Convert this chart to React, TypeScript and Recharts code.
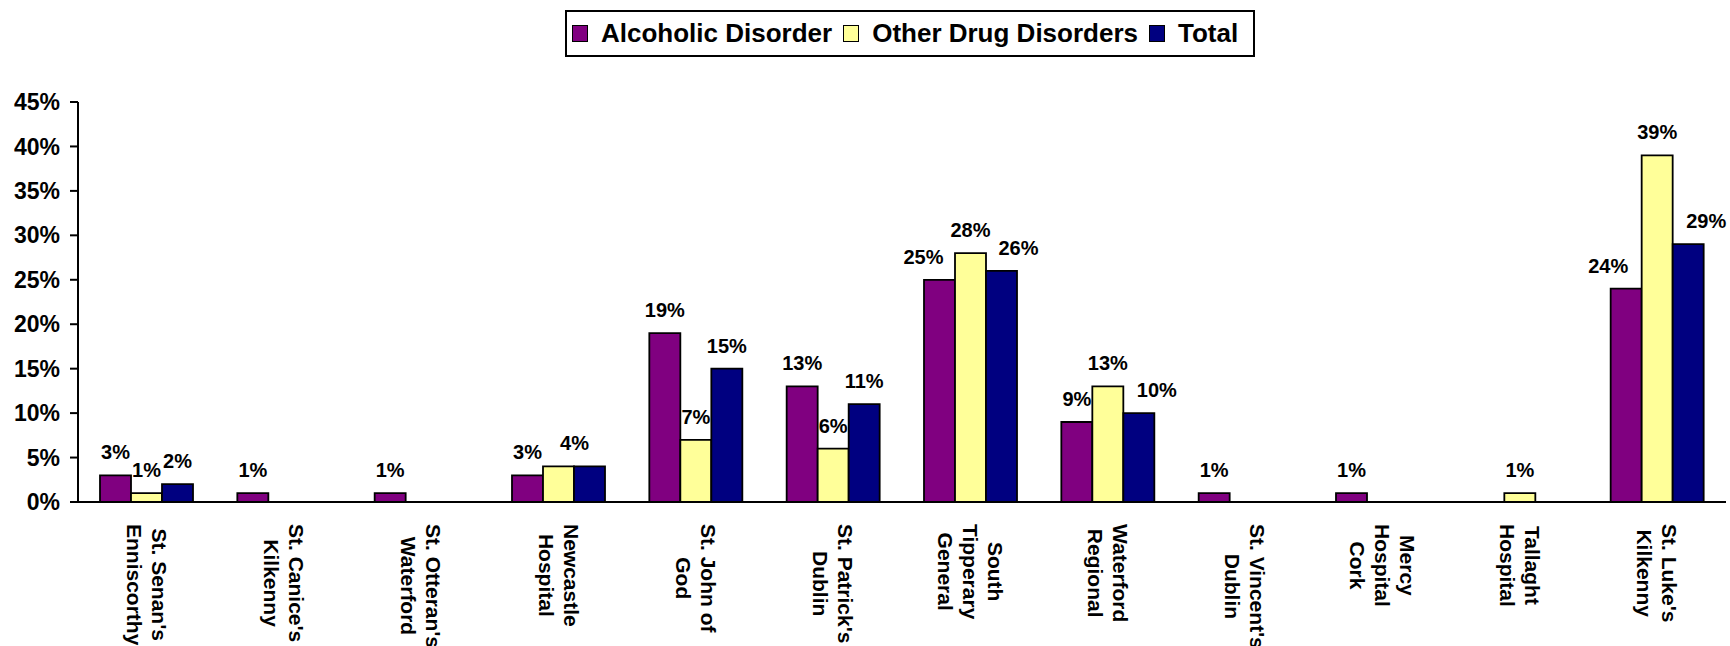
import { Bar, BarChart, LabelList, XAxis, YAxis } from "recharts";

const FONT = '"Liberation Sans", Arial, Helvetica, sans-serif';

// ---- data ----
const hospitals = [
  "St. Senan's\nEnniscorthy",
  "St. Canice's\nKilkenny",
  "St. Otteran's\nWaterford",
  "Newcastle\nHospital",
  "St. John of\nGod",
  "St. Patrick's\nDublin",
  "South\nTipperary\nGeneral",
  "Waterford\nRegional",
  "St. Vincent's\nDublin",
  "Mercy\nHospital\nCork",
  "Tallaght\nHospital",
  "St. Luke's\nKilkenny",
];
const alcoholic = [3, 1, 1, 3, 19, 13, 25, 9, 1, 1, 0, 24];
const otherDrugs = [1, 0, 0, 4, 7, 6, 28, 13, 0, 0, 1, 39];
const totals = [2, 0, 0, 4, 15, 11, 26, 10, 0, 0, 0, 29];
const yTicks = [0, 5, 10, 15, 20, 25, 30, 35, 40, 45];
const edgeTicks = [0, 1, 2, 3, 4, 5, 6, 7, 8, 9, 10, 11, 12];

const series = [
  { key: "alcoholic", name: "Alcoholic Disorder", color: "#800080", values: alcoholic },
  { key: "otherDrugs", name: "Other Drug Disorders", color: "#FFFF99", values: otherDrugs },
  { key: "total", name: "Total", color: "#000080", values: totals },
];

const data = hospitals.map((name, i) => ({
  name,
  idx: i,
  alcoholic: alcoholic[i],
  otherDrugs: otherDrugs[i],
  total: totals[i],
}));

// labels that were moved by hand in the original chart (px shifts)
const labelShift: Record<string, Record<number, number>> = {
  alcoholic: { 6: -16, 11: -18 },
  otherDrugs: { 3: 16 },
  total: { 6: 17, 7: 18, 11: 18 },
};
const hiddenLabels: Record<string, number[]> = {
  alcoholic: [],
  otherDrugs: [],
  total: [3],
};

let canvas: HTMLCanvasElement | null = null;
function textWidth(text: string, font: string): number {
  if (!canvas) canvas = document.createElement("canvas");
  const ctx = canvas.getContext("2d");
  if (!ctx) return text.length * 11;
  ctx.font = font;
  return ctx.measureText(text).width;
}

const TICK_FS = 21;
const LINE_H = 25;

function HospitalTick(props: any) {
  const { x, y, payload } = props;
  const lines = String(payload.value).split("\n");
  const font = `bold ${TICK_FS}px ${FONT}`;
  const maxW = Math.max(...lines.map((l) => textWidth(l, font)));
  const n = lines.length;
  return (
    <g transform={`translate(${x},${y})`}>
      <text
        transform="rotate(90)"
        fontFamily={FONT}
        fontWeight="bold"
        fontSize={TICK_FS}
        fill="#000"
        textAnchor="middle"
      >
        {lines.map((line, i) => (
          <tspan
            key={i}
            x={22 + maxW / 2}
            y={0.35 * TICK_FS - LINE_H * ((n - 1) / 2 - i)}
          >
            {line}
          </tspan>
        ))}
      </text>
    </g>
  );
}

function makeLabel(seriesKey: string, values: number[]) {
  return (props: any) => {
    const { x, y, width } = props;
    const index = Number(props.value);
    const value = values[index];
    if (!value || hiddenLabels[seriesKey].includes(index)) return null;
    const shift = labelShift[seriesKey][index] ?? 0;
    return (
      <text
        x={Number(x) + Number(width) / 2 + shift}
        y={Number(y) - 16}
        textAnchor="middle"
        fontFamily={FONT}
        fontWeight="bold"
        fontSize={20}
        fill="#000"
      >
        {`${value}%`}
      </text>
    );
  };
}

function ChartLegend() {
  return (
    <div
      style={{
        position: "absolute",
        left: 565,
        top: 10,
        height: 43,
        border: "2px solid #000",
        background: "#fff",
        display: "flex",
        alignItems: "center",
        padding: "0 15px 0 5px",
        fontFamily: FONT,
        fontWeight: "bold",
        fontSize: 26,
        whiteSpace: "nowrap",
      }}
    >
      {series.map((s, i) => (
        <div
          key={s.key}
          style={{ display: "flex", alignItems: "center", marginLeft: i ? 11 : 0 }}
        >
          <span
            style={{
              display: "inline-block",
              width: 14,
              height: 15,
              background: s.color,
              border: "1.5px solid #000",
              marginRight: 13,
            }}
          />
          <span>{s.name}</span>
        </div>
      ))}
    </div>
  );
}

export default function App() {
  return (
    <div
      style={{
        position: "absolute",
        left: 0,
        top: 0,
        width: 1730,
        height: 646,
        background: "#fff",
      }}
    >
      <ChartLegend />
      <BarChart
        width={1730}
        height={646}
        data={data}
        margin={{ top: 102, right: 4, bottom: 0, left: 0 }}
        barGap={0}
      >
        <XAxis
          xAxisId="edges"
          type="number"
          domain={[0, 12]}
          ticks={edgeTicks}
          tick={false}
          axisLine={false}
          tickLine={{ stroke: "#000", strokeWidth: 2 }}
          tickSize={8}
          height={0}
          allowDataOverflow
        />
        <XAxis
          xAxisId="cat"
          dataKey="name"
          interval={0}
          height={144}
          axisLine={{ stroke: "#000", strokeWidth: 2 }}
          tickLine={false}
          tickSize={0}
          tickMargin={0}
          tick={<HospitalTick />}
        />
        <YAxis
          width={78}
          domain={[0, 45]}
          ticks={yTicks}
          interval={0}
          tickFormatter={(v: number) => `${v}%`}
          axisLine={{ stroke: "#000", strokeWidth: 2 }}
          tickLine={{ stroke: "#000", strokeWidth: 2 }}
          tickSize={8}
          tickMargin={10}
          tick={{
            fontFamily: FONT,
            fontWeight: "bold",
            fontSize: 23,
            fill: "#000",
          }}
        />
        {series.map((s) => (
          <Bar
            key={s.key}
            xAxisId="cat"
            dataKey={s.key}
            name={s.name}
            fill={s.color}
            stroke="#000"
            strokeWidth={1.8}
            barSize={31}
            isAnimationActive={false}
          >
            <LabelList dataKey="idx" content={makeLabel(s.key, s.values)} />
          </Bar>
        ))}
      </BarChart>
    </div>
  );
}
